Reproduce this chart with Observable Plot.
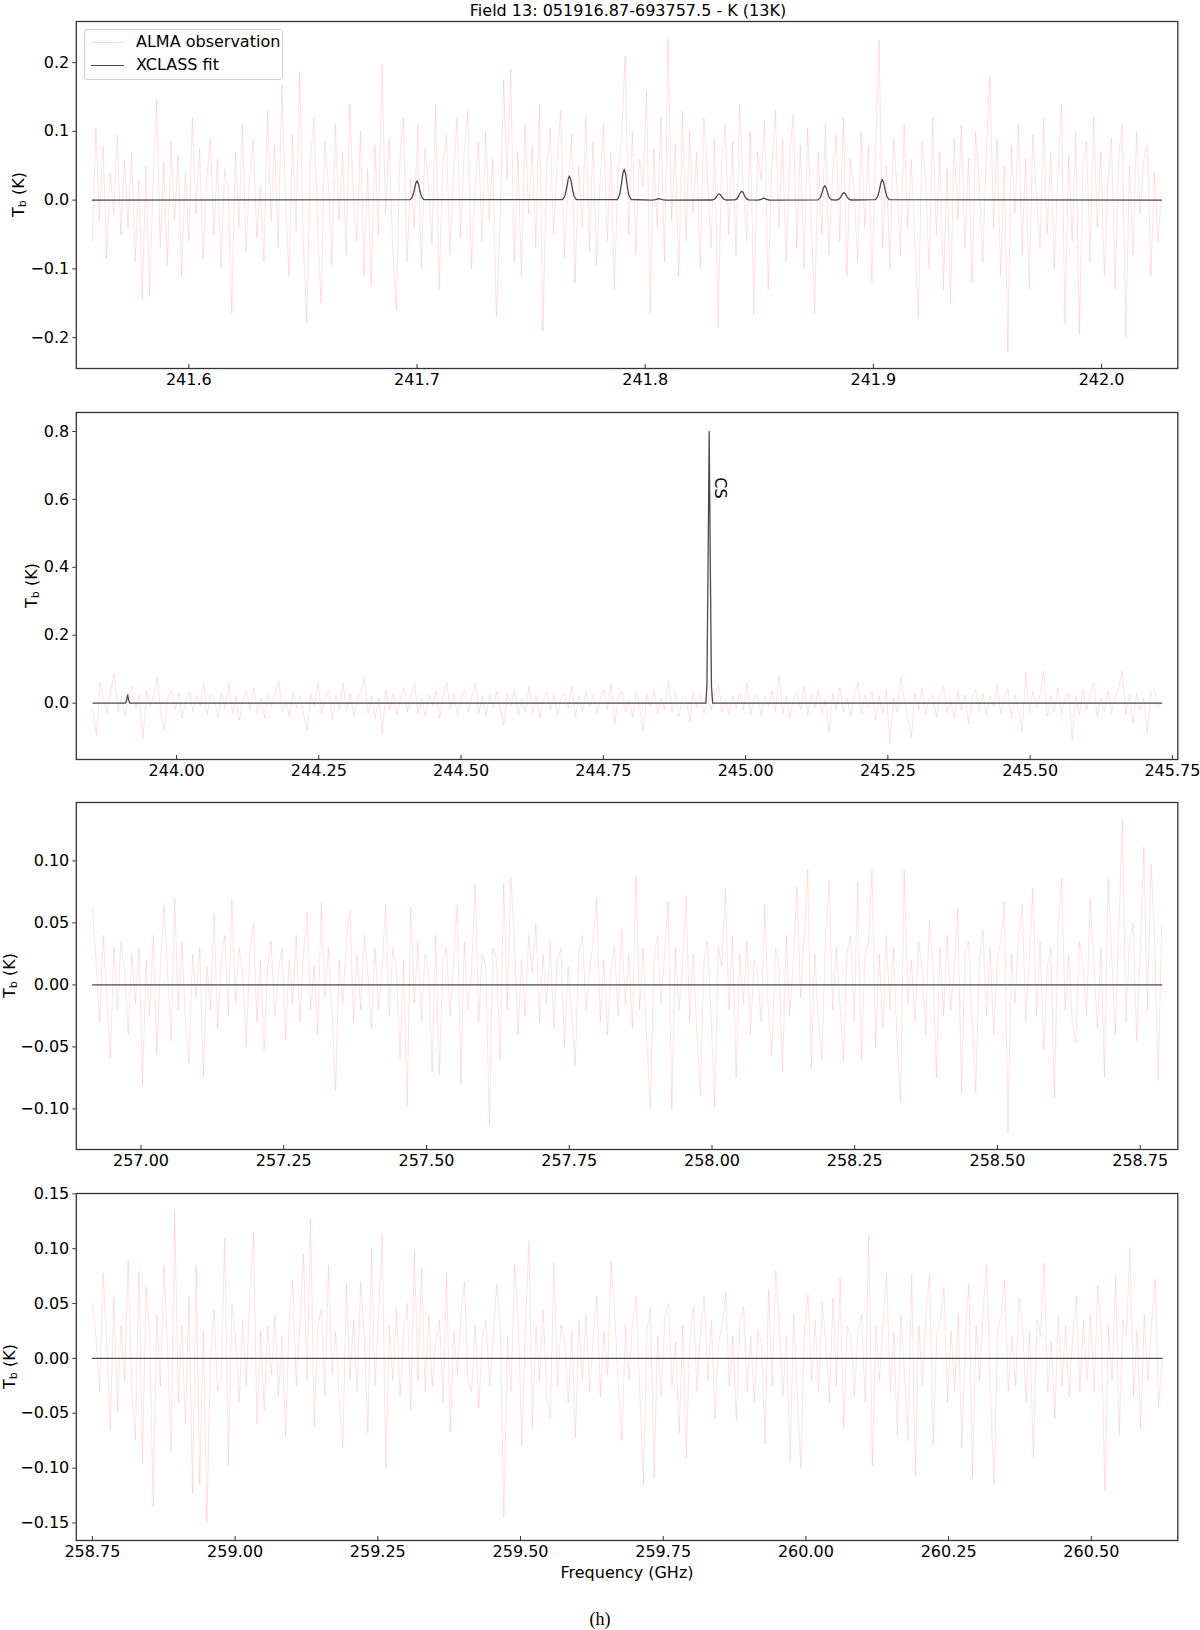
<!DOCTYPE html>
<html><head><meta charset="utf-8">
<script src="https://cdn.jsdelivr.net/npm/d3@7"></script>
<script src="https://cdn.jsdelivr.net/npm/@observablehq/plot@0.6"></script>
<style>
body{margin:0;background:#fff;font-family:"DejaVu Sans",sans-serif;}
#wrap{position:relative;width:1200px;height:1630px;overflow:hidden;background:#fff;}
.panel{position:absolute;left:0;}
.txt{position:absolute;white-space:nowrap;color:#000;}
#legend{position:absolute;left:84px;top:29px;width:197px;height:49px;border:1px solid #cfcfcf;border-radius:3px;background:rgba(255,255,255,0.85);z-index:5;font-size:16px;}
#legend .row{position:absolute;left:0;width:197px;height:20px;}
#legend .sw{position:absolute;left:6px;top:10px;width:33px;height:0;}
#legend .lb{position:absolute;left:51px;top:0;line-height:20px;white-space:nowrap;}
</style></head><body><div id="wrap"></div>
<script>
// ---------- data ----------
const title = "Field 13: 051916.87-693757.5 - K (13K)";
const xLabel = "Frequency (GHz)";
const caption = "(h)";
const legendLabels = ["ALMA observation", "XCLASS fit"];

// observed spectra (mK), evenly spaced channels between start and end frequency (GHz)
const obs1Range = [241.5577, 242.0263];
const obs1 = [-60,105,-30,80,-85,40,-20,95,-50,60,
-40,70,-90,30,-145,50,-140,20,146,-70,
55,-95,85,-30,65,-110,40,-60,120,-20,
75,-85,30,90,-50,60,-100,45,15,-165,
70,-40,110,-75,35,90,-55,20,-90,130,
-30,80,-70,168,10,-110,95,-45,187,-60,
-178,60,120,-40,-150,85,25,-95,110,-30,
70,-80,140,5,-60,100,-110,45,-125,80,
-50,197,-20,90,-70,-160,60,120,-90,30,
-40,110,-100,75,20,-65,140,-130,50,95,
-80,35,120,-55,70,130,-100,15,85,-60,
100,-30,60,-170,-40,175,30,190,-90,70,
-110,110,-20,80,-70,140,-190,40,105,-50,
60,130,-85,20,95,-120,50,-40,120,-75,
85,-95,30,110,-60,70,-130,40,90,210,
-50,100,-80,60,20,160,-165,75,-40,120,
-90,235,-30,80,-110,130,-60,100,-20,70,
-100,120,40,-70,90,-185,60,110,-50,85,
-80,140,20,-60,100,-167,70,30,115,-130,
50,130,-40,90,-90,60,125,-70,80,-100,
105,-20,-165,70,-50,110,-80,40,95,-60,
120,-110,60,15,-90,100,-40,80,-120,70,
233,-70,50,-100,90,20,-80,110,-40,60,
-60,-170,85,30,-100,120,-50,70,-130,45,
-150,90,-30,110,-70,60,-120,100,20,-90,
70,180,-40,90,-110,50,-221,80,-20,110,
-80,60,-130,95,10,-70,120,-50,70,-100,
40,140,-180,65,-60,100,-195,50,85,-90,
120,-40,70,-110,30,90,-130,60,110,-200,
50,-80,100,-20,60,80,-110,40,-60,10];

const obs2Range = [243.853, 245.731];
const obs2 = [-20,-95,60,10,-30,40,85,-25,20,-40,
30,50,-15,25,-105,35,-10,20,75,-30,
-80,15,40,-20,30,-45,10,35,-25,20,
-10,60,-35,25,5,-40,30,-15,60,-30,
20,-50,10,35,-20,45,-30,15,-45,25,
-10,30,65,-25,10,-40,35,-15,20,-35,
-80,25,-10,60,-30,15,40,-50,20,-20,
60,-25,30,-40,10,35,75,-30,20,-45,
15,-90,40,-20,30,-35,10,45,-25,20,
55,-30,15,-40,25,-10,35,-45,20,60,
-20,30,-35,10,40,-25,15,60,-30,20,
-40,25,-15,35,-20,-65,30,-10,40,-35,
15,-25,50,-30,20,-45,10,35,-20,25,
-35,15,30,-15,50,-40,20,-25,35,-10,
25,-30,15,40,-20,60,-65,20,35,-25,
10,-40,30,-15,-80,25,-10,40,-30,15,
-20,65,-25,30,-40,20,10,-55,35,-15,
25,-30,15,-20,30,55,-25,10,-35,20,
-15,30,-20,60,-35,15,25,-40,20,-10,
35,-25,80,-30,20,-45,15,30,-20,50,
-35,25,-15,40,-30,10,-85,30,-20,45,
-25,15,-40,20,60,-30,25,-15,35,-50,
20,-30,40,-120,15,-25,75,10,-40,-100,
30,-20,45,-35,15,25,-40,20,50,-30,
10,-45,35,-20,25,-60,15,40,-25,30,
-35,20,-10,55,-30,15,40,-45,25,-20,
-85,90,-30,35,-15,25,95,-40,20,-25,
45,-30,15,30,-110,20,-35,40,-20,25,
60,-40,15,-25,35,-30,20,45,95,-35,
25,-60,30,-20,15,-90,35,40,-15,10];

const obs3Range = [256.915, 258.7876];
const obs3 = [62,20,-30,40,-10,-59,30,-20,35,10,
-40,25,-15,30,-81,20,-25,40,-56,15,
64,10,-45,70,-20,35,-30,-63,25,-10,
30,-74,15,-20,58,-35,20,40,-25,69,
-15,30,10,-50,25,50,-30,20,-53,15,
35,-25,10,30,-44,20,-15,40,-30,25,
58,-20,15,-40,66,-10,30,-25,-85,20,
-15,35,60,-30,25,-20,40,10,-35,30,
-20,15,65,-25,30,10,-60,20,-98,63,
-15,35,-30,25,10,-70,40,-73,20,30,
-25,15,65,-80,35,-20,10,82,-30,25,
15,-113,30,20,-60,82,-20,87,35,-40,
20,-25,40,10,50,-30,25,-15,35,-35,
20,30,-50,15,-25,-65,25,40,-20,10,
35,70,-30,20,-40,15,30,-25,45,-15,
25,-35,88,-20,30,-45,-101,20,40,-15,
25,67,-101,30,-20,15,72,-30,25,-40,
-89,20,35,-25,-98,30,15,77,-20,40,
-75,25,-15,35,-40,20,10,-30,65,-20,
-57,30,15,-70,40,-25,20,79,-10,35,
93,-68,25,-30,-60,40,84,-20,30,-15,
-61,25,40,-30,83,-61,20,35,93,-50,
25,-35,40,-20,30,-45,-95,93,-15,20,
-30,35,15,-40,52,20,-75,30,-25,40,
-20,15,62,-87,25,35,-30,-86,20,45,
-25,30,-40,20,35,67,-120,25,-15,40,
65,-30,20,78,-25,35,-52,15,30,-91,
40,86,-20,25,-30,-47,35,15,-25,70,
20,-35,30,-74,86,25,-40,45,134,-30,
35,50,-45,25,111,-20,97,40,-77,48];

const obs4Range = [258.75, 260.6241];
const obs4 = [50,20,-30,78,15,-65,56,-48,30,-20,
89,-30,-74,80,-95,65,20,-135,40,-25,
85,10,-85,135,-40,30,-60,57,-123,85,
-115,25,-150,0,45,-30,-20,110,-98,50,
20,-40,35,-25,60,115,-60,25,-47,30,
-15,40,-35,20,-72,35,72,-25,30,95,
-20,127,-62,30,45,-35,85,-15,25,-40,
-82,68,-20,35,-30,70,20,-68,100,-25,
40,113,-100,30,-20,45,-35,25,50,-47,
98,-20,82,-30,40,-25,15,35,-40,78,
-67,25,-15,40,70,-20,-30,30,-45,20,
35,-25,15,68,30,-145,20,-30,85,40,
-80,25,107,-62,30,-20,45,-35,-55,87,
-25,30,15,-40,25,-72,35,-20,40,-30,
20,57,-35,25,-15,88,40,-25,-75,30,
-20,35,57,-30,-115,25,46,-109,20,-35,
40,50,-25,15,-68,30,-91,20,47,-30,
25,57,-20,35,-55,15,30,60,-25,20,
-56,35,47,-30,20,-40,25,15,-78,63,
-25,80,30,-35,20,-94,40,-30,-100,25,
58,-20,35,-30,52,15,-40,55,-25,74,
-64,30,20,-35,25,40,-40,113,-98,30,
-20,35,77,-30,25,-70,40,-15,-75,77,
-107,30,-25,40,76,-80,20,35,65,-40,
25,-30,40,-82,20,68,-109,30,-20,45,
85,-35,-115,25,40,71,-30,20,-25,55,
30,-40,25,-90,35,20,87,-30,15,-55,
40,-25,30,-35,20,57,-30,35,-20,40,
-30,67,25,-121,30,-20,74,-70,35,20,
101,-35,25,-64,40,-20,30,72,-45,0];

// XCLASS fit, [frequency GHz, Tb K]
const fit1 = [
[241.5577,0],
[241.6970,0.0006],[241.6980,0.0048],[241.6987,0.0132],[241.6994,0.0238],[241.7000,0.028],[241.7006,0.0238],[241.7013,0.0132],[241.7020,0.0048],[241.7030,0.0006],
[241.7638,0.0007],[241.7648,0.006],[241.7655,0.0165],[241.7662,0.0298],[241.7668,0.035],[241.7674,0.0298],[241.7681,0.0165],[241.7688,0.006],[241.7698,0.0007],
[241.7878,0.0009],[241.7888,0.0077],[241.7895,0.0212],[241.7902,0.0383],[241.7908,0.045],[241.7914,0.0383],[241.7921,0.0212],[241.7928,0.0077],[241.7938,0.0009],
[241.8030,0],[241.8045,0.0006],[241.8060,0.002],[241.8075,0.0006],[241.8090,0],
[241.8294,0.0002],[241.8304,0.0015],[241.8311,0.0042],[241.8318,0.0077],[241.8324,0.009],[241.8330,0.0077],[241.8337,0.0042],[241.8344,0.0015],[241.8354,0.0002],
[241.8393,0.0003],[241.8403,0.0022],[241.8410,0.0061],[241.8417,0.011],[241.8423,0.013],[241.8429,0.011],[241.8436,0.0061],[241.8443,0.0022],[241.8453,0.0003],
[241.8495,0],[241.8508,0.0012],[241.8520,0.003],[241.8532,0.0012],[241.8545,0],
[241.8757,0.0004],[241.8767,0.0036],[241.8774,0.0099],[241.8781,0.0179],[241.8787,0.021],[241.8793,0.0179],[241.8800,0.0099],[241.8807,0.0036],[241.8817,0.0004],
[241.8841,0.0002],[241.8851,0.0019],[241.8858,0.0052],[241.8865,0.0094],[241.8871,0.011],[241.8877,0.0094],[241.8884,0.0052],[241.8891,0.0019],[241.8901,0.0002],
[241.9009,0.0006],[241.9019,0.0051],[241.9026,0.0141],[241.9033,0.0255],[241.9039,0.030],[241.9045,0.0255],[241.9052,0.0141],[241.9059,0.0051],[241.9069,0.0006],
[242.0263,0]];
const fit2 = [[243.853,0],[243.910,0],[243.912,0.008],[243.914,0.024],[243.916,0.008],[243.918,0],
[244.930,0],[244.932,0.05],[244.934,0.40],[244.936,0.80],[244.938,0.40],[244.940,0.05],[244.942,0],[245.731,0]];
const fit3 = [[256.915,0],[258.7876,0]];
const fit4 = [[258.75,0],[260.6241,0]];

// line identification labels (panel 2)
const lineLabels2 = [{name:"CS", freq:244.936, tb:0.665}];

// axis ticks
const xTicks1 = [241.6,241.7,241.8,241.9,242.0];
const xTicks2 = [244.00,244.25,244.50,244.75,245.00,245.25,245.50,245.75];
const xTicks3 = [257.00,257.25,257.50,257.75,258.00,258.25,258.50,258.75];
const xTicks4 = [258.75,259.00,259.25,259.50,259.75,260.00,260.25,260.50];
const yTicks1 = [-0.2,-0.1,0.0,0.1,0.2];
const yTicks2 = [0.0,0.2,0.4,0.6,0.8];
const yTicks3 = [-0.10,-0.05,0.00,0.05,0.10];
const yTicks4 = [-0.15,-0.10,-0.05,0.00,0.05,0.10,0.15];

// ---------- layout ----------
const W = 1200, ML = 75.8, MR = 22.7, MT = 10, MB = 40, FH = 347;
const OBS_COLOR = "#ff8080", OBS_OPACITY = 0.3, FIT_COLOR = "#4a4a4a";
const panels = [
  {top:21.3,  x:[241.5507,242.0334], y:[-0.2449,0.2598], xt:xTicks1, yt:yTicks1, xf:".1f", yf:".1f", obs:obs1, range:obs1Range, fit:fit1, labX:18, labels:[]},
  {top:411.7, x:[243.8238,245.7595], y:[-0.166,0.856],   xt:xTicks2, yt:yTicks2, xf:".2f", yf:".1f", obs:obs2, range:obs2Range, fit:fit2, labX:31, labels:lineLabels2},
  {top:802.3, x:[256.8867,258.8158], y:[-0.1327,0.1471], xt:xTicks3, yt:yTicks3, xf:".2f", yf:".2f", obs:obs3, range:obs3Range, fit:fit3, labX:9, labels:[]},
  {top:1192.7,x:[258.7218,260.6515], y:[-0.166,0.1503],  xt:xTicks4, yt:yTicks4, xf:".2f", yf:".2f", obs:obs4, range:obs4Range, fit:fit4, labX:9, labels:[]}
];

const wrap = document.getElementById("wrap");

panels.forEach((p) => {
  const n = p.obs.length;
  const [f0, f1] = p.range;
  const obsData = p.obs.map((v, i) => ({f: f0 + i * (f1 - f0) / (n - 1), t: v / 1000}));
  const fitData = p.fit.map(([f, t]) => ({f, t}));
  const svg = Plot.plot({
    width: W, height: FH + MT + MB,
    marginLeft: ML, marginRight: MR, marginTop: MT, marginBottom: MB,
    style: {fontFamily: "DejaVu Sans, sans-serif", fontSize: "16px", color: "#000", background: "transparent"},
    x: {domain: p.x},
    y: {domain: p.y},
    marks: [
      Plot.line(obsData, {x: "f", y: "t", stroke: OBS_COLOR, strokeOpacity: OBS_OPACITY, strokeWidth: 0.8, clip: true}),
      Plot.line(fitData, {x: "f", y: "t", stroke: FIT_COLOR, strokeWidth: 1.3, clip: true}),
      Plot.text(p.labels, {x: "freq", y: "tb", text: "name", rotate: 90, textAnchor: "start", dx: 11, fontSize: 16, fill: "#000"}),
      Plot.axisX(p.xt, {tickFormat: d3.format(p.xf), tickSize: -4, tickPadding: 9, fontSize: 16, label: null, stroke: "#333"}),
      Plot.axisY(p.yt, {tickFormat: d3.format(p.yf), tickSize: 3.5, tickPadding: 3.5, fontSize: 16, label: null, stroke: "#333"}),
      Plot.frame({stroke: "#333", strokeWidth: 1.3})
    ]
  });
  svg.classList.add("panel");
  svg.style.top = (p.top - MT) + "px";
  // y-axis label T_b (K) with subscript
  const cy = MT + FH / 2;
  const t = d3.select(svg).append("text")
    .attr("transform", `translate(${p.labX},${cy}) rotate(-90)`)
    .attr("text-anchor", "middle").attr("dominant-baseline", "central")
    .attr("font-size", 16).attr("fill", "#000");
  t.append("tspan").text("T");
  t.append("tspan").attr("font-size", 11).attr("dy", 4).text("b");
  t.append("tspan").attr("dy", -4).text(" (K)");
  wrap.appendChild(svg);
});

// title, x label, caption
function addText(str, left, top, css) {
  const d = document.createElement("div");
  d.className = "txt"; d.textContent = str;
  d.style.left = left + "px"; d.style.top = top + "px";
  Object.assign(d.style, css || {});
  wrap.appendChild(d);
  return d;
}
addText(title, 0, 2, {fontSize: "16px", lineHeight: "18px", width: "1256px", textAlign: "center"});
addText(xLabel, 0, 1563, {fontSize: "16px", lineHeight: "20px", width: "1254px", textAlign: "center"});
addText(caption, 0, 1608, {fontSize: "18px", lineHeight: "22px", width: "1200px", textAlign: "center", fontFamily: "'Liberation Serif', serif"});

// legend
const lg = document.createElement("div");
lg.id = "legend";
[[legendLabels[0], OBS_COLOR, OBS_OPACITY, 2], [legendLabels[1], FIT_COLOR, 1, 25]].forEach(([lab, col, op, y]) => {
  const r = document.createElement("div"); r.className = "row"; r.style.top = y + "px";
  const s = document.createElement("div"); s.className = "sw";
  s.style.borderTop = `1.3px solid ${col}`; s.style.opacity = op;
  const l = document.createElement("div"); l.className = "lb"; l.textContent = lab;
  r.appendChild(s); r.appendChild(l); lg.appendChild(r);
});
wrap.appendChild(lg);
</script></body></html>
